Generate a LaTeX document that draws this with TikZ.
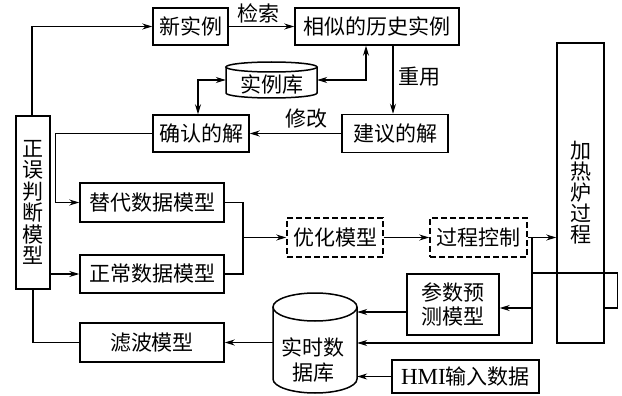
\documentclass[tikz,border=0pt]{standalone}
\usepackage{fontspec}
\setmainfont{Liberation Serif}
\newfontfamily\cjk{Noto Sans CJK SC}
\usetikzlibrary{arrows.meta}
\begin{document}
\begin{tikzpicture}[x=1pt,y=-1pt,
  box/.style={draw, line width=1.5pt, inner sep=0pt, font=\cjk\fontsize{21}{25}\selectfont, align=center},
  dbox/.style={box, dash pattern=on 6pt off 3pt},
  frame/.style={inner sep=0pt},
  lbl/.style={font=\cjk\fontsize{21}{25}\selectfont, inner sep=0pt},
  ln/.style={line width=1.05pt},
  arr/.style={ln, -{Stealth[length=10pt,width=6pt]}},
  dbl/.style={ln, {Stealth[length=10pt,width=6pt]}-{Stealth[length=10pt,width=6pt]}},
  cyl/.style={line width=1.5pt}
]
\fill[white] (0,0) rectangle (622,396);
\useasboundingbox (0,0) rectangle (622,396);

% boxes
\node[box, minimum width=75pt, minimum height=37pt] (xin) at (190.5,26.5) {新实例};
\node[box, minimum width=164pt, minimum height=37pt] (xs) at (377,26.5) {相似的历史实例};
\node[box, minimum width=96pt, minimum height=37pt] (qr) at (201,133.5) {确认的解};
\node[box, minimum width=106pt, minimum height=38pt] (jy) at (395,133.5) {建议的解};
\node[box, minimum width=34pt, minimum height=173pt, font=\cjk\fontsize{21}{21.5}\selectfont] (zw) at (33,202.5) {正\\误\\判\\断\\模\\型};
\node[box, minimum width=144pt, minimum height=39pt] (td) at (152,202.5) {替代数据模型};
\node[box, minimum width=144pt, minimum height=38pt] (zc) at (152,274) {正常数据模型};
\node[box, minimum width=144pt, minimum height=39pt] (lb) at (152,342.5) {滤波模型};
\node[dbox, minimum width=96pt, minimum height=39pt] (yh) at (335,237.5) {优化模型};
\node[dbox, minimum width=97pt, minimum height=39pt] (gc) at (478.5,237.5) {过程控制};
\node[box, minimum width=47pt, minimum height=300pt, font=\cjk\fontsize{21}{21}\selectfont] (jr) at (580.5,193) {加\\热\\炉\\过\\程};
\node[box, minimum width=92pt, minimum height=61pt, font=\cjk\fontsize{21}{24.5}\selectfont] (cs) at (453,304.5) {参数预\\测模型};
\node[box, minimum width=147pt, minimum height=33pt] (hmi) at (465.5,376.5) {{\rmfamily\fontsize{23}{25}\selectfont HMI}输入数据};

% cylinder: case base
\node[frame, minimum width=91pt, minimum height=36pt] (kb) at (271.5,80) {};
\draw[cyl] (271.5,67) ellipse [x radius=45.5pt, y radius=5pt];
\draw[cyl] (226,67) -- (226,93) arc [start angle=180, end angle=360, x radius=45.5pt, y radius=5pt] -- (317,67);
\node[lbl] (kbt) at (272,84.5) {实例库};

% cylinder: realtime database
\node[frame, minimum width=84pt, minimum height=100pt] (ss) at (315,343) {};
\draw[cyl] (315,307) ellipse [x radius=42pt, y radius=14pt];
\draw[cyl] (273,307) -- (273,379) arc [start angle=180, end angle=360, x radius=42pt, y radius=14pt] -- (357,307);
\node[lbl, align=center, font=\cjk\fontsize{21}{25}\selectfont] (sst) at (313,360) {实时数\\据库};

% labels
\node[lbl] (l1) at (258,13) {检索};
\node[lbl] (l2) at (419,77) {重用};
\node[lbl] (l3) at (306,119) {修改};

% connectors
\draw[arr] ([xshift=-1pt]zw.north) |- (xin.west);
\draw[arr] (xin.east) -- (xs.west);
\draw[dbl] (kb.east) -| ([xshift=-11pt]xs.south);
\draw[dbl] (kb.west) -| ([xshift=-3pt]qr.north);
\draw[arr] ([xshift=16pt]xs.south) -- ([xshift=16pt]xs.south |- jy.north);
\draw[arr] (jy.west) -- (jy.west -| qr.east);
\draw[arr] (qr.west) -| ([xshift=-24pt]td.west) -- (td.west);
\draw[arr] (zw.east |- zc.west) -- (zc.west);
\draw[ln] (zw.south) |- (lb.west);
\draw[arr] (lb.east -| ss.west) -- (lb.east);

\coordinate (m) at (243,237.5);
\draw[ln] (td.east) -| (m) |- (zc.east);
\draw[arr] (m) -- (yh.west);
\draw[arr] (yh.east) -- (gc.west);
\draw[arr] (gc.east) -- (gc.east -| jr.west);

\coordinate (v0) at (532,237.5);
\coordinate (v2) at (532,308);
\coordinate (v3) at (532,273);
\draw[arr] (v0) |- (ss.east);
\draw[arr] (v2) -- (v2 -| cs.east);
\draw[ln] (v2 -| jr.east) -- ++(13,0) |- (v3);
\draw[arr] ([yshift=-7.5pt]cs.west) -- ([yshift=-7.5pt]cs.west -| ss.east);
\draw[arr] (hmi.west) -- (hmi.west -| ss.east);
\end{tikzpicture}
\end{document}
